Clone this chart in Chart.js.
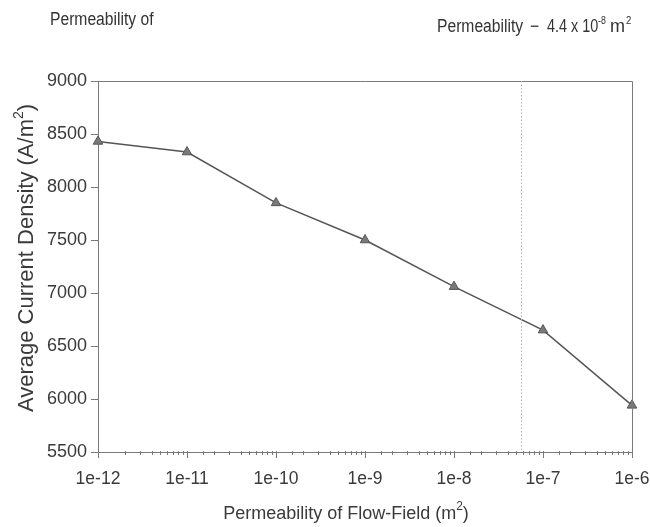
<!DOCTYPE html>
<html>
<head>
<meta charset="utf-8">
<script src="https://cdn.jsdelivr.net/npm/chart.js@4.4.0/dist/chart.umd.min.js"></script>
<style>
  html, body { margin: 0; padding: 0; background: #fff; }
  #wrap { width: 650px; height: 527px; position: relative; }
</style>
</head>
<body>
<div id="wrap"><canvas id="c" width="650" height="527"></canvas></div>
<script>
// ---- Data ----
const permeability = [1e-12, 1e-11, 1e-10, 1e-9, 1e-8, 1e-7, 1e-6];
const currentDensity = [8430, 8330, 7850, 7500, 7060, 6650, 5940];
const yTicks = [5500, 6000, 6500, 7000, 7500, 8000, 8500, 9000];
const referencePermeability = 5.6e-8;
const titleLeft = "Permeability of";
const titleRightParts = ["Permeability", "\u2212", "4.4 x 10", "-8", "m", "2"];
const xTitle = "Permeability of Flow-Field (m";
const yTitle = "Average Current Density (A/m";

const FONT = "'Liberation Sans', Arial, sans-serif";
const AXIS = '#7a7a7a';
const TXT = '#3a3a3a';

function isMajor(v) {
  const e = Math.round(Math.log10(v));
  return Math.abs(v / Math.pow(10, e) - 1) < 1e-6;
}

function condensed(ctx, text, x, y, size, sx) {
  ctx.save();
  ctx.translate(x, y);
  ctx.scale(sx, 1);
  ctx.font = size + "px " + FONT;
  ctx.fillText(text, 0, 0);
  ctx.restore();
}

const decor = {
  id: 'decor',
  afterDraw(chart) {
    const ctx = chart.ctx;
    const a = chart.chartArea;
    const xs = chart.scales.x;
    ctx.save();
    // frame top and right
    ctx.strokeStyle = AXIS;
    ctx.lineWidth = 1;
    ctx.beginPath();
    ctx.moveTo(a.left, Math.round(a.top) + 0.5);
    ctx.lineTo(Math.round(a.right) + 0.5, Math.round(a.top) + 0.5);
    ctx.lineTo(Math.round(a.right) + 0.5, a.bottom);
    ctx.stroke();
    // x ticks
    xs.ticks.forEach(t => {
      const px = Math.round(xs.getPixelForValue(t.value)) + 0.5;
      const len = isMajor(t.value) ? 6 : 3;
      ctx.beginPath();
      ctx.moveTo(px, a.bottom - 1);
      ctx.lineTo(px, a.bottom + len);
      ctx.stroke();
    });
    // dotted reference line
    const rx = Math.round(xs.getPixelForValue(referencePermeability)) + 0.5;
    ctx.strokeStyle = '#b5b5b5';
    ctx.setLineDash([1.5, 2]);
    ctx.beginPath();
    ctx.moveTo(rx, a.top);
    ctx.lineTo(rx, a.bottom);
    ctx.stroke();
    ctx.setLineDash([]);

    // titles (condensed)
    ctx.fillStyle = '#333';
    ctx.textBaseline = 'alphabetic';
    ctx.textAlign = 'left';
    const SX = 0.87;
    condensed(ctx, titleLeft, 50, 25, 18, SX);
    const rp = titleRightParts;
    condensed(ctx, rp[0], 437, 32, 18, SX);
    condensed(ctx, rp[1], 530, 32, 18, SX);
    condensed(ctx, rp[2], 547, 32, 18, 0.8);
    condensed(ctx, rp[3], 598, 24, 11, 0.8);
    condensed(ctx, rp[4], 610, 32, 18, 1.0);
    condensed(ctx, rp[5], 626, 24, 11, SX);

    // x axis title
    ctx.fillStyle = TXT;
    let big = 18, small = 12;
    ctx.font = big + "px " + FONT;
    const xw = ctx.measureText(xTitle).width;
    const pw = ctx.measureText(")").width;
    ctx.font = small + "px " + FONT;
    const sw = ctx.measureText("2").width;
    const total = xw + sw + pw;
    const cx = 346;
    let sx = cx - total / 2;
    const ty = 519;
    ctx.font = big + "px " + FONT;
    ctx.fillText(xTitle, sx, ty);
    ctx.font = small + "px " + FONT;
    ctx.fillText("2", sx + xw, ty - 9);
    ctx.font = big + "px " + FONT;
    ctx.fillText(")", sx + xw + sw, ty);

    // y axis title
    ctx.save();
    big = 22; small = 14;
    const cy = 258;
    ctx.translate(33, cy);
    ctx.rotate(-Math.PI / 2);
    ctx.font = big + "px " + FONT;
    const yw = ctx.measureText(yTitle).width;
    const ypw = ctx.measureText(")").width;
    ctx.font = small + "px " + FONT;
    const ysw = ctx.measureText("2").width;
    const ytot = yw + ysw + ypw;
    let yx = -ytot / 2;
    ctx.font = big + "px " + FONT;
    ctx.fillText(yTitle, yx, 0);
    ctx.font = small + "px " + FONT;
    ctx.fillText("2", yx + yw, -10);
    ctx.font = big + "px " + FONT;
    ctx.fillText(")", yx + yw + ysw, 0);
    ctx.restore();

    ctx.restore();
  }
};

new Chart(document.getElementById('c'), {
  type: 'line',
  data: {
    datasets: [{
      data: permeability.map((p, i) => ({ x: p, y: currentDensity[i] })),
      borderColor: '#555',
      borderWidth: 1.5,
      backgroundColor: '#777',
      pointStyle: 'triangle',
      pointRadius: 5.5,
      pointBorderColor: '#555',
      pointBorderWidth: 1,
      pointBackgroundColor: '#7a7a7a',
      tension: 0,
      clip: false
    }]
  },
  options: {
    responsive: false,
    animation: false,
    devicePixelRatio: 1,
    layout: { padding: { top: 81, right: 18, left: 0, bottom: 0 } },
    plugins: { legend: { display: false }, tooltip: { enabled: false } },
    scales: {
      x: {
        type: 'logarithmic',
        min: 1e-12,
        max: 1e-6,
        border: { display: true, color: AXIS, width: 1 },
        grid: { display: false },
        afterFit: (s) => { s.height = 75; s.paddingRight = 0; s.paddingLeft = 0; },
        ticks: {
          autoSkip: false,
          maxRotation: 0,
          minRotation: 0,
          padding: 9,
          color: TXT,
          font: { family: FONT, size: 17.5 },
          callback: function (v) {
            if (!isMajor(v)) return '';
            return '1e' + Math.round(Math.log10(v));
          }
        }
      },
      y: {
        type: 'linear',
        min: 5500,
        max: 9000,
        afterBuildTicks: (s) => { s.ticks = yTicks.map(v => ({ value: v })); },
        afterFit: (s) => { s.width = 98; },
        border: { display: true, color: AXIS, width: 1 },
        grid: { display: true, drawOnChartArea: false, drawTicks: true, tickLength: 7, color: AXIS },
        ticks: {
          padding: 4,
          color: TXT,
          font: { family: FONT, size: 18 },
          callback: (v) => String(v)
        }
      }
    }
  },
  plugins: [decor]
});
</script>
</body>
</html>
